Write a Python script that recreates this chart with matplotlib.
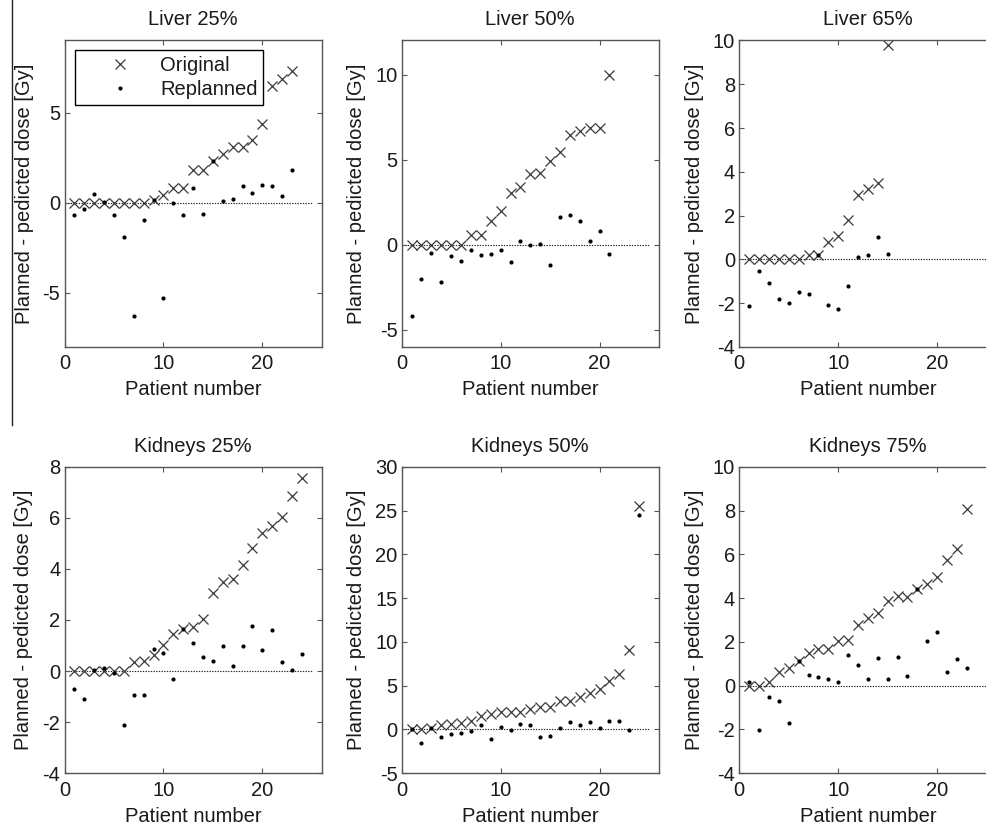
import numpy as np
import matplotlib
matplotlib.use("Agg")
import matplotlib.pyplot as plt
from matplotlib.lines import Line2D

plt.rcParams['font.family'] = ['Liberation Sans', 'DejaVu Sans']
plt.rcParams['axes.unicode_minus'] = False

# ---------------- data ----------------
titles = ["Liver 25%", "Liver 50%", "Liver 65%",
          "Kidneys 25%", "Kidneys 50%", "Kidneys 75%"]

liver25_orig = [0, 0, 0, 0, 0, 0, 0, 0, 0.17, 0.44, 0.8, 0.8, 1.8, 1.8, 2.3, 2.7,
                3.1, 3.1, 3.5, 4.35, 6.5, 6.85, 7.3]
liver25_repl = [-0.7, -0.35, 0.48, 0.04, -0.67, -1.93, -6.3, -0.96, 0.15, -5.3,
                -0.02, -0.7, 0.8, -0.63, 2.3, 0.11, 0.19, 0.9, 0.52, 0.98, 0.9,
                0.35, 1.83]

liver50_orig = [0, 0, 0, 0, 0, 0, 0.55, 0.55, 1.37, 2.0, 3.03, 3.42, 4.17, 4.2,
                4.9, 5.45, 6.46, 6.67, 6.85, 6.85, 10.0]
liver50_repl = [-4.19, -2.02, -0.51, -2.21, -0.67, -0.96, -0.33, -0.63, -0.55,
                -0.33, -1.04, 0.2, -0.02, 0.02, -1.21, 1.6, 1.76, 1.41, 0.23,
                0.8, -0.57]

liver65_orig = [0, 0, 0, 0, 0, 0, 0.18, 0.18, 0.8, 1.05, 1.79, 2.93, 3.19, 3.5, 9.79]
liver65_repl = [-2.15, -0.53, -1.08, -1.82, -2.0, -1.5, -1.6, 0.18, -2.1, -2.26,
                -1.22, 0.09, 0.18, 1.02, 0.26]

kid25_orig = [0, 0, 0, 0, 0, 0, 0.37, 0.4, 0.63, 1.02, 1.46, 1.64, 1.74, 2.04,
              3.06, 3.47, 3.59, 4.16, 4.8, 5.4, 5.68, 6.04, 6.85, 7.57]
kid25_repl = [-0.69, -1.11, 0.03, 0.1, -0.07, -2.13, -0.95, -0.95, 0.86, 0.69,
              -0.31, 1.64, 1.11, 0.56, 0.38, 0.99, 0.2, 0.97, 1.76, 0.82, 1.6,
              0.34, 0.04, 0.68]

kid50_orig = [0, 0, 0.2, 0.5, 0.6, 0.75, 0.95, 1.5, 1.7, 2.0, 2.0, 2.0, 2.3, 2.5,
              2.6, 3.2, 3.2, 3.7, 4.1, 4.6, 5.5, 6.3, 9.05, 25.5]
kid50_repl = [0, -1.52, 0.1, -0.87, -0.53, -0.46, -0.15, 0.46, -1.14, 0.3, -0.08,
              0.6, 0.46, -0.84, -0.76, 0.1, 0.8, 0.46, 0.8, 0.15, 0.95, 1.0,
              -0.1, 24.45]

kid75_orig = [0, 0, 0.15, 0.6, 0.8, 1.14, 1.5, 1.68, 1.68, 2.04, 2.08, 2.76, 3.11,
              3.32, 3.87, 4.08, 4.07, 4.43, 4.63, 4.97, 5.73, 6.25, 8.06]
kid75_repl = [0.17, -2.01, -0.52, -0.69, -1.71, 1.14, 0.47, 0.4, 0.3, 0.15, 1.42,
              0.95, 0.29, 1.28, 0.32, 1.31, 0.43, 4.43, 2.03, 2.44, 0.63, 1.22,
              0.81]

originals = [liver25_orig, liver50_orig, liver65_orig, kid25_orig, kid50_orig, kid75_orig]
replans = [liver25_repl, liver50_repl, liver65_repl, kid25_repl, kid50_repl, kid75_repl]

ylims = [(-8, 9), (-6, 12), (-4, 10), (-4, 8), (-5, 30), (-4, 10)]
yticks = [[-5, 0, 5], [-5, 0, 5, 10], [-4, -2, 0, 2, 4, 6, 8, 10],
          [-4, -2, 0, 2, 4, 6, 8], [-5, 0, 5, 10, 15, 20, 25, 30],
          [-4, -2, 0, 2, 4, 6, 8, 10]]
xticks = [0, 10, 20]
xlim = (0, 26)
zero_line_span = (0, 25)

xlabel = "Patient number"
ylabel = "Planned - pedicted dose [Gy]"
legend_labels = ["Original", "Replanned"]

# ---------------- layout ----------------
W, H = 986, 830
fig = plt.figure(figsize=(W / 100, H / 100), dpi=100)
fig.patch.set_facecolor('white')

lefts = [64.5, 401.7, 739.3]
tops = [40.5, 466.8]
ax_w, ax_h = 257.2, 306.3

FS = 14.5
TXT = '#1a1a1a'
SPINE = '#555555'
XCOL = '#3a3a3a'

axes = []
for i in range(6):
    r, c = divmod(i, 3)
    ax = fig.add_axes([lefts[c] / W, 1 - (tops[r] + ax_h) / H, ax_w / W, ax_h / H])
    axes.append(ax)
    orig = originals[i]
    rep = replans[i]
    xo = np.arange(1, len(orig) + 1)
    xr = np.arange(1, len(rep) + 1)
    ax.hlines(0, *zero_line_span, colors='#222222', linestyles=(0, (1.2, 1.2)),
              linewidth=0.8, zorder=1)
    ax.plot(xo, orig, linestyle='none', marker='x', ms=7.8, mew=0.9,
            color=XCOL, label=legend_labels[0], zorder=2)
    ax.plot(xr, rep, linestyle='none', marker='o', ms=3.0, mew=0,
            color='black', label=legend_labels[1], zorder=3)
    ax.set_xlim(*xlim)
    ax.set_ylim(*ylims[i])
    ax.set_xticks(xticks)
    ax.set_yticks(yticks[i])
    ax.tick_params(direction='in', top=True, right=True, length=3.5, width=0.8,
                   color=SPINE, labelsize=FS, labelcolor=TXT)
    ax.tick_params(axis='x', pad=5.5)
    ax.tick_params(axis='y', pad=3)
    for s in ax.spines.values():
        s.set_color(SPINE)
        s.set_linewidth(1.0)
    ax.set_title(titles[i], fontsize=FS, color=TXT, pad=11)
    ax.set_xlabel(xlabel, fontsize=FS, color=TXT, labelpad=5)
    ax.set_ylabel(ylabel, fontsize=FS, color=TXT, labelpad=6.5)

leg = axes[0].legend(loc='upper left', bbox_to_anchor=(0.042, 0.968),
                     borderaxespad=0, fontsize=FS, frameon=True, fancybox=False,
                     borderpad=0.3, handlelength=3.8, handletextpad=0.1,
                     labelspacing=0.25, framealpha=1)
leg.get_frame().set_edgecolor('black')
leg.get_frame().set_linewidth(1.0)
for t in leg.get_texts():
    t.set_color(TXT)

# thin vertical rule at the left edge of the page crop
fig.add_artist(Line2D([12.3 / W, 12.3 / W], [1, 1 - 425 / H],
                      transform=fig.transFigure, color='#222222', linewidth=1.0))

fig.savefig('out.png', dpi=100)
